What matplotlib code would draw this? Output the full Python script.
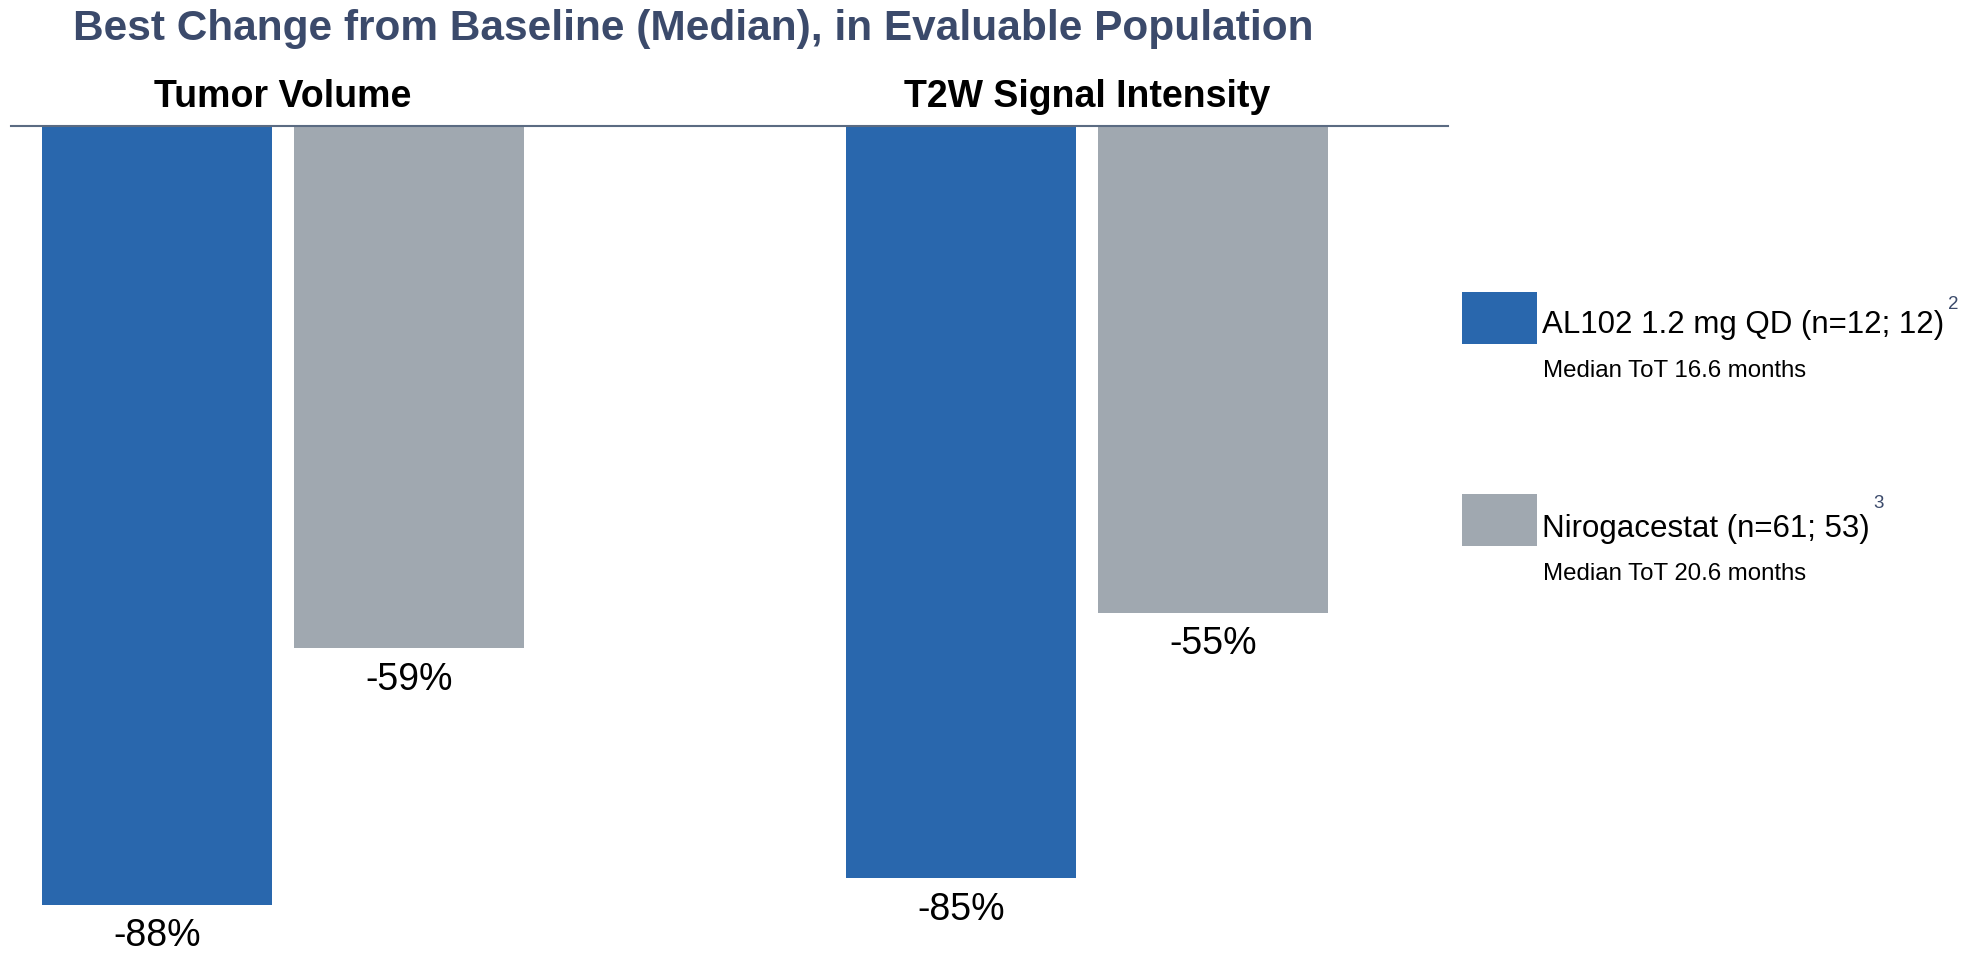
import matplotlib
matplotlib.use("Agg")
import matplotlib.pyplot as plt
import matplotlib.transforms as mtransforms
from matplotlib.patches import Rectangle
import numpy as np

plt.rcParams['font.family'] = ['Liberation Sans', 'DejaVu Sans']

# データ
categories = ["Tumor Volume", "T2W Signal Intensity"]
al102_values = [-88, -85]
niro_values = [-59, -55]
series_names = ["AL102 1.2 mg QD (n=12; 12)", "Nirogacestat (n=61; 53)"]
series_refs = ["2", "3"]
series_tot = ["Median ToT 16.6 months", "Median ToT 20.6 months"]
title = "Best Change from Baseline (Median), in Evaluable Population"

BLUE = "#2967ad"
GRAY = "#a0a8b0"
NAVY = "#3b4a6b"

W, H = 1987, 956
fig = plt.figure(figsize=(W / 100, H / 100), dpi=100)


def fx(px):
    return px / W


def fy(py):
    return 1 - py / H


# 軸の配置
ax = fig.add_axes([fx(11), 0, fx(1448) - fx(11), fy(126)])
x = np.arange(len(categories))
off = 0.157
width = 0.2855
ax.bar(x - off, al102_values, width, color=BLUE)
ax.bar(x + off, niro_values, width, color=GRAY)
ax.set_xlim(-0.3383, 1.449)
ax.set_ylim(-93.8, 0)
ax.axis("off")
ax.axhline(0, color="#5b6b82", lw=1.5, clip_on=False)

# 値ラベル
for xs, vals in [(x - off, al102_values), (x + off, niro_values)]:
    for xi, v in zip(xs, vals):
        ax.annotate(f"{v}%", (xi, v), xytext=(0, -30), textcoords="offset points",
                    ha="center", va="baseline", fontsize=27, annotation_clip=False)

# グループ名
trans = mtransforms.blended_transform_factory(ax.transData, fig.transFigure)
for xi, name in zip(x, categories):
    ax.text(xi, fy(107), name, transform=trans, ha="center", va="baseline",
            fontsize=27, fontweight="bold")

# タイトル
fig.text(fx(73), fy(40), title, ha="left", va="baseline", fontsize=30.5,
         fontweight="bold", color=NAVY)

# 凡例
legend_rows = [
    (BLUE, 292, 333, 309, 377),
    (GRAY, 494, 537, 508, 580),
]
main_texts = []
for (col, top, base, sup_base, tot_base), name, tot in zip(legend_rows, series_names, series_tot):
    fig.add_artist(Rectangle((fx(1462), fy(top + 52)), fx(1537) - fx(1462), 52 / H,
                             transform=fig.transFigure, color=col, lw=0))
    t = fig.text(fx(1542), fy(base), name, ha="left", va="baseline", fontsize=22.5)
    main_texts.append((t, sup_base))
    fig.text(fx(1543), fy(tot_base), tot, ha="left", va="baseline", fontsize=17.3)

fig.canvas.draw()
renderer = fig.canvas.get_renderer()
for (t, sup_base), ref in zip(main_texts, series_refs):
    bb = t.get_window_extent(renderer)
    fig.text(fx(bb.x1 + 4), fy(sup_base), ref, ha="left", va="baseline",
             fontsize=13.5, color=NAVY)

fig.savefig("out.png", dpi=100)
